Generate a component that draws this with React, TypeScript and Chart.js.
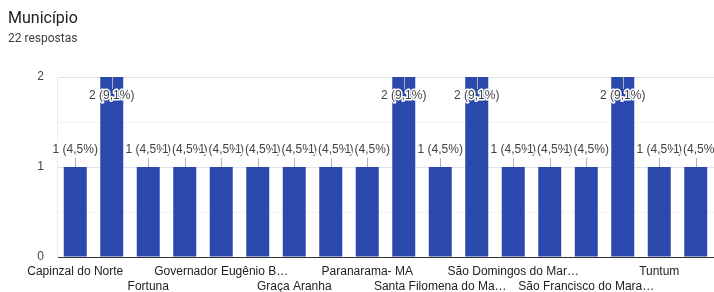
import React, { useEffect, useRef } from "react";
import { Chart, registerables } from "chart.js";

Chart.register(...registerables);

const TITLE = "Município";
const SUBTITLE = "22 respostas";
const TOTAL = 22;

const categories = [
  "Capinzal do Norte",
  "Codó",
  "Fortuna",
  "Governador Archer",
  "Governador Eugênio Barros",
  "Governador Luiz Rocha",
  "Graça Aranha",
  "Lima Campos",
  "Paranarama- MA",
  "Presidente Dutra",
  "Santa Filomena do Maranhão",
  "Santo Antônio dos Lopes",
  "São Domingos do Maranhão",
  "São Francisco do Brejão",
  "São Francisco do Maranhão",
  "Timon",
  "Tuntum",
  "Vargem Grande",
];

const values = [1, 2, 1, 1, 1, 1, 1, 1, 1, 2, 1, 2, 1, 1, 1, 2, 1, 1];

// Labels as displayed on the axis ('' = hidden by the original chart)
const shownLabels = [
  "Capinzal do Norte", "", "Fortuna", "", "Governador Eugênio B…", "", "Graça Aranha", "",
  "Paranarama- MA", "", "Santa Filomena do Ma…", "", "São Domingos do Mar…", "",
  "São Francisco do Mara…", "", "Tuntum", "",
];

const yTickValues = [0, 1, 2];

const FONT = "'Liberation Sans', Arial, sans-serif";

const dataLabelPlugin = {
  id: "dataLabels",
  afterDatasetsDraw(chart: any) {
    const ctx = chart.ctx;
    const meta = chart.getDatasetMeta(0);
    const area = chart.chartArea;
    ctx.save();
    ctx.font = `12px ${FONT}`;
    ctx.textAlign = "center";
    ctx.textBaseline = "middle";
    meta.data.forEach((bar: any, i: number) => {
      const v = values[i];
      const pct = ((v / TOTAL) * 100).toFixed(1).replace(".", ",");
      const text = `${v} (${pct}%)`;
      const x = bar.x;
      const top = bar.y;
      let ty: number, l1: number, l2: number;
      if (top - 20 < area.top) {
        ty = top + 19;
        l1 = top;
        l2 = top + 12;
      } else {
        ty = top - 17;
        l1 = top - 9;
        l2 = top;
      }
      ctx.strokeStyle = "#b0b0b0";
      ctx.lineWidth = 1;
      ctx.beginPath();
      ctx.moveTo(Math.round(x) + 0.5, l1);
      ctx.lineTo(Math.round(x) + 0.5, l2);
      ctx.stroke();
      ctx.lineWidth = 3;
      ctx.lineJoin = "round";
      ctx.strokeStyle = "#ffffff";
      ctx.strokeText(text, x, ty);
      ctx.fillStyle = "#424242";
      ctx.fillText(text, x, ty);
    });
    ctx.restore();
  },
};

export default function App() {
  const ref = useRef<HTMLCanvasElement>(null);

  useEffect(() => {
    if (!ref.current) return;
    const chart = new Chart(ref.current, {
      type: "bar",
      data: {
        labels: categories,
        datasets: [
          {
            data: values,
            backgroundColor: "#2b49ad",
            borderWidth: 0,
            barPercentage: 0.63,
            categoryPercentage: 1,
          },
        ],
      },
      options: {
        responsive: false,
        animation: false,
        layout: { padding: { top: 77, right: 0, left: 0, bottom: 0 } },
        plugins: {
          legend: { display: false },
          tooltip: { enabled: false },
        },
        scales: {
          x: {
            offset: true,
            grid: { display: false, drawTicks: false },
            border: { display: true, color: "#333333", width: 1 },
            ticks: {
              autoSkip: false,
              maxRotation: 0,
              minRotation: 0,
              padding: 7,
              color: "#222222",
              font: { family: FONT, size: 12, lineHeight: 1.25 },
              callback: (_v: any, i: number) => {
                const s = shownLabels[i];
                if (!s) return "";
                return i % 4 === 2 ? ["", s] : [s];
              },
            },
            afterFit: (scale: any) => {
              scale.height = 35;
            },
          },
          y: {
            min: 0,
            max: 2,
            grid: {
              drawTicks: false,
              color: (c: any) =>
                c.tick && c.tick.value === 0
                  ? "#333333"
                  : Number.isInteger(c.tick?.value)
                  ? "#e3e3e3"
                  : "#f3f3f3",
            },
            border: { display: true, color: "#ececec" },
            ticks: {
              stepSize: 0.5,
              padding: 13,
              color: "#444444",
              font: { family: FONT, size: 12 },
              callback: (v: any) => (yTickValues.includes(v) ? String(v) : ""),
            },
            afterFit: (scale: any) => {
              scale.width = 57;
            },
          },
        },
      },
      plugins: [dataLabelPlugin],
    });
    return () => chart.destroy();
  }, []);

  return (
    <div
      style={{
        position: "fixed",
        left: 0,
        top: 0,
        width: 714,
        height: 292,
        background: "#fff",
        overflow: "hidden",
      }}
    >
      <canvas
        ref={ref}
        width={714}
        height={292}
        style={{ position: "absolute", left: 0, top: 0 }}
      />
      <div
        style={{
          position: "absolute",
          left: 8,
          top: 8,
          fontFamily: "Roboto, sans-serif",
          fontSize: 16,
          lineHeight: "20px",
          color: "#202124",
        }}
      >
        {TITLE}
      </div>
      <div
        style={{
          position: "absolute",
          left: 8,
          top: 30,
          fontFamily: "Roboto, sans-serif",
          fontSize: 12,
          lineHeight: "16px",
          color: "#3c4043",
        }}
      >
        {SUBTITLE}
      </div>
    </div>
  );
}
